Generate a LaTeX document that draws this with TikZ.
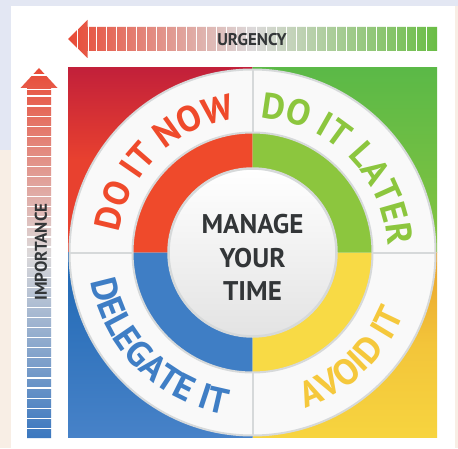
\documentclass[tikz,border=0pt]{standalone}
\usepackage{fontspec}
\setmainfont{PT Sans}
\usetikzlibrary{calc,decorations.text,positioning}
\definecolor{rnow}{HTML}{EF4A2B}
\definecolor{glater}{HTML}{8CC63E}
\definecolor{bdel}{HTML}{3F7EC5}
\definecolor{yavoid}{HTML}{F8DA45}
\definecolor{ytext}{HTML}{F5C83C}
\definecolor{rcorner}{HTML}{C2203A}
\definecolor{rquad}{HTML}{E8412F}
\definecolor{gcorner}{HTML}{5BB947}
\definecolor{gquad}{HTML}{86C440}
\definecolor{bcorner}{HTML}{1F68B4}
\definecolor{bquad}{HTML}{4782C8}
\definecolor{ycorner}{HTML}{E9A22E}
\definecolor{yquad}{HTML}{F7D43F}
\definecolor{barred}{HTML}{E84A36}
\definecolor{barmid}{HTML}{DCD9DA}
\definecolor{bargreen}{HTML}{6ABD45}
\definecolor{barblue}{HTML}{3A77BF}
\definecolor{ringline}{HTML}{D6D9DA}
\definecolor{darktext}{HTML}{333638}
\definecolor{bgblue}{HTML}{E3E7F3}
\definecolor{bgpeach}{HTML}{F8EEE5}
\newcommand\arcfont{\bfseries\fontsize{36}{36}\selectfont}

\begin{document}
\begin{tikzpicture}[x=1pt,y=1pt,line join=round,
  arctext/.style={decorate,decoration={text along path,text align=center,text color=#1}},
  barline/.style={white,line width=1.2pt}]
\useasboundingbox (0,0) rectangle (458,448);
\fill[bgpeach] (0,0) rectangle (458,448);
\fill[bgblue] (0,442) rectangle (458,448) (0,298) rectangle (11,448);
\fill[white] (11,0) rectangle (455,442);
\coordinate (O) at (252.5,195.5);
\coordinate (A) at (68,380);
\coordinate (B) at (437,380);
\coordinate (C) at (437,11);
\coordinate (D) at (68,11);
\shade[shading angle=45,top color=rcorner,bottom color=rquad,middle color=rquad] (A) rectangle (O);
\shade[shading angle=-45,top color=gcorner,bottom color=gquad] (B) rectangle (O);
\shade[shading angle=-135,top color=ycorner,bottom color=yquad,middle color=yquad!70!ycorner] (C) rectangle (O);
\shade[shading angle=135,top color=bcorner,bottom color=bquad] (D) rectangle (O);
\fill[white!95!gray] (O) circle (183);
\draw[ringline,line width=2pt] (O) circle (183);
\foreach \i/\g in {rnow/90,bdel/180,yavoid/270,glater/0}{\fill[\i] (O) -- ++(\g:120) arc[start angle=\g,delta angle=90,radius=120] -- cycle;
  \draw[ringline,line width=2pt] ($(O)+(\g:120)$) -- ($(O)+(\g:183)$);}
\draw[ringline,line width=2pt] (O) circle (120);
\shade[top color=white,bottom color=gray!22] (O) circle (84);
\draw[ringline,line width=2.5pt] (O) circle (84);
\node[align=center,text=darktext,font=\bfseries\fontsize{27}{33.5}\selectfont] (mgr) at ($(O)+(0,-5)$) {MANAGE\\YOUR\\TIME};
\path[arctext=rnow,decoration={text={|\arcfont|DO IT NOW}}] ($(O)+(184.4:135)$) arc[start angle=184.4,end angle=84.4,radius=135];
\path[arctext=glater,decoration={text={|\arcfont|DO IT LATER}}] ($(O)+(94.6:135)$) arc[start angle=94.6,end angle=-5.4,radius=135];
\path[arctext=bdel,decoration={text={|\arcfont|DELEGATE IT}}] ($(O)+(175.3:164)$) arc[start angle=175.3,end angle=275.3,radius=164];
\path[arctext=ytext,decoration={text={|\arcfont|AVOID IT}}] ($(O)+(-96.7:164)$) arc[start angle=-96.7,end angle=3.3,radius=164];
\shade[left color=barred,right color=bargreen,middle color=barmid] (68,409) -- (87.5,428) -- (87.5,421) -- (437,421) -- (437,397) -- (87.5,397) -- (87.5,390) -- cycle;
\foreach \k in {0,...,33}{\draw[barline] (96.5+10*\k,396) -- ++(0,26);}
\draw[barline] (77.5,388) -- ++(0,42) (88.5,388) -- ++(0,42);
\node[text=darktext,font=\bfseries\fontsize{17}{17}\selectfont] (urg) at (252,408.5) {URGENCY};
\shade[top color=barred,bottom color=barblue,middle color=barmid] (39,380) -- (57.5,360) -- (51,360) -- (51,10) -- (27,10) -- (27,360) -- (20.5,360) -- cycle;
\foreach \k in {0,...,33}{\draw[barline] (26,352-10.07*\k) -- ++(26,0);}
\draw[barline] (19,373) -- ++(40,0) (19,358.5) -- ++(40,0);
\node[rotate=90,text=darktext,font=\bfseries\fontsize{17}{17}\selectfont] (imp) at (41,196) {IMPORTANCE};
\end{tikzpicture}
\end{document}
